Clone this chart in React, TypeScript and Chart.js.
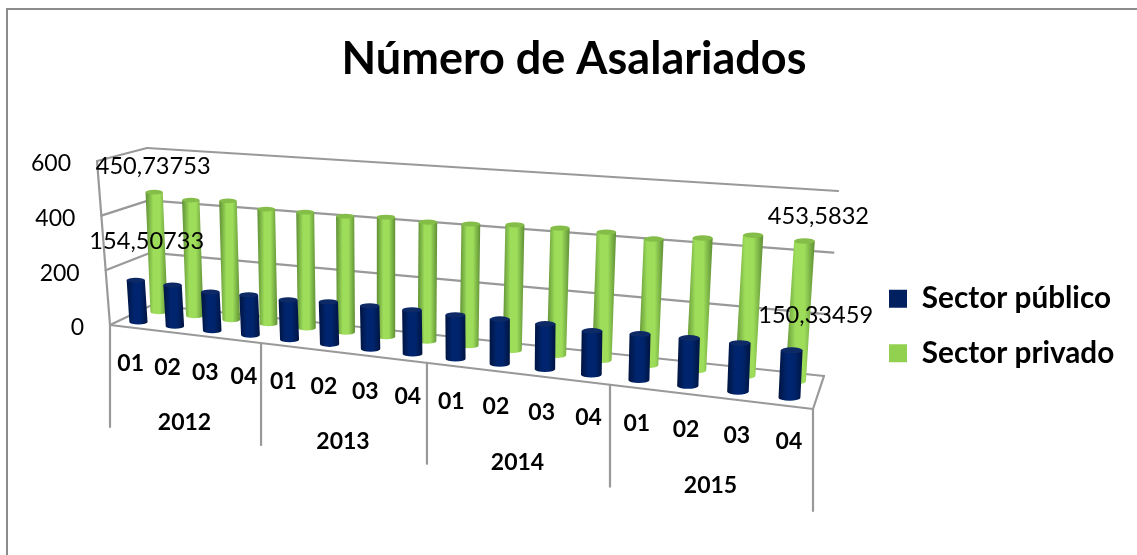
import React, { useEffect, useRef } from "react";
import { Chart, registerables } from "chart.js";

Chart.register(...registerables);

const years = ["2012", "2013", "2014", "2015"];
const quarters = ["01", "02", "03", "04"];
const categories = years.flatMap((y) => quarters.map((q) => `${y}-${q}`));
const sectorPublico = [154.50733, 151, 140, 144, 141, 149, 150, 151.6, 150, 152, 152, 145, 151.6, 155.5, 156, 150.33459];
const sectorPrivado = [450.73753, 431.6, 439, 420, 420, 417, 425, 419, 424, 433, 434, 433, 422, 438, 460, 453.5832];
const yTicks = [0, 200, 400, 600];

const BLUE = "#002060";
const GREEN = "#92D050";
const GRID = "#999999";
const FONT = "Lato";

type P = { x: number; y: number };
const F0: P = { x: 110, y: 325 };
const F1: P = { x: 813, y: 409 };
const B0: P = { x: 152, y: 305 };
const B1: P = { x: 824, y: 376 };
const FT0: P = { x: 97, y: 161 };
const FT1: P = { x: 821, y: 217 };
const BT0: P = { x: 147, y: 148 };
const BT1: P = { x: 838, y: 191 };

const warp = (u: number) => (0.821 * u) / (1 - 0.179 * u);
const mix = (a: P, b: P, k: number): P => ({ x: a.x + (b.x - a.x) * k, y: a.y + (b.y - a.y) * k });
// u: 0..1 along the categories, h: 0..1 up the value axis, d: 0 front .. 1 back
function project(u: number, h: number, d: number): P {
  const t = warp(u);
  const front = mix(mix(F0, F1, t), mix(FT0, FT1, t), h);
  const back = mix(mix(B0, B1, t), mix(BT0, BT1, t), h);
  return mix(front, back, d);
}

const depthOf = [0.25, 0.75];
const labelShift: Record<string, P>[] = [
  { first: { x: 11, y: -39 }, last: { x: 24, y: -35 } },
  { first: { x: -1, y: -26 }, last: { x: 14, y: -25 } },
];
const shades = [
  { edge: "#001440", mid: "#00256e", cap: "#0e2a66" },
  { edge: "#5f8f35", mid: "#9ddd5a", cap: "#84bd48" },
];

function line(ctx: CanvasRenderingContext2D, a: P, b: P, w = 2.2) {
  ctx.beginPath();
  ctx.moveTo(a.x, a.y);
  ctx.lineTo(b.x, b.y);
  ctx.lineWidth = w;
  ctx.strokeStyle = GRID;
  ctx.stroke();
}

function cylinder(ctx: CanvasRenderingContext2D, base: P, top: P, hw: number, shade: { edge: string; mid: string; cap: string }) {
  const ry = hw * 0.27;
  const left = Math.min(base.x, top.x) - hw;
  const right = Math.max(base.x, top.x) + hw;
  const g = ctx.createLinearGradient(left, 0, right, 0);
  g.addColorStop(0, shade.edge);
  g.addColorStop(0.35, shade.mid);
  g.addColorStop(0.65, shade.mid);
  g.addColorStop(1, shade.edge);
  ctx.beginPath();
  ctx.moveTo(top.x - hw, top.y);
  ctx.lineTo(base.x - hw, base.y);
  ctx.ellipse(base.x, base.y, hw, ry, 0, Math.PI, 0, true);
  ctx.lineTo(top.x + hw, top.y);
  ctx.closePath();
  ctx.fillStyle = g;
  ctx.fill();
  ctx.beginPath();
  ctx.ellipse(top.x, top.y, hw, ry, 0, 0, Math.PI * 2);
  ctx.fillStyle = shade.cap;
  ctx.fill();
}

const scene = {
  id: "scene",
  beforeDraw(chart: any) {
    const { ctx } = chart;
    ctx.save();
    ctx.fillStyle = "#ffffff";
    ctx.fillRect(0, 0, chart.width, chart.height);
    ctx.strokeStyle = "#8c8c8c";
    ctx.lineWidth = 2;
    ctx.beginPath();
    ctx.moveTo(7, chart.height);
    ctx.lineTo(7, 9);
    ctx.lineTo(chart.width, 9);
    ctx.stroke();
    ctx.restore();
  },
  afterLayout(chart: any) {
    const lg = chart.legend;
    const w = lg.right - lg.left;
    const h = lg.bottom - lg.top;
    lg.left = 864;
    lg.right = 864 + w;
    const cy = 326;
    lg.top = cy - h / 2;
    lg.bottom = cy + h / 2;
  },
  beforeDatasetsDraw(chart: any) {
    const { ctx, chartArea: area } = chart;
    const yScale = chart.scales.y;
    const hOf = (v: number) => (area.bottom - yScale.getPixelForValue(v)) / area.height;
    ctx.save();
    ctx.lineCap = "round";
    for (const v of yScale.ticks.map((t: any) => t.value)) {
      const h = hOf(v);
      line(ctx, project(0, h, 0), project(0, h, 1));
      line(ctx, project(0, h, 1), project(1, h, 1));
    }
    line(ctx, project(0, 0, 0), project(0, hOf(600), 0));
    line(ctx, project(0, 0, 0), project(1, 0, 0));
    line(ctx, project(1, 0, 0), project(1, 0, 1));
    const drop = [102, 102, 101, 102, 102];
    years.concat("end").forEach((_, i) => {
      const a = project(i / years.length, 0, 0);
      line(ctx, a, { x: a.x, y: a.y + drop[i] });
    });
    for (const ds of [1, 0]) {
      const meta = chart.getDatasetMeta(ds);
      meta.data.forEach((el: any) => {
        const u = (el.x - area.left) / area.width;
        const w = el.width / area.width;
        const v = yScale.getValueForPixel(el.y);
        const d = depthOf[ds];
        const base = project(u, 0, d);
        const top = project(u, hOf(v), d);
        const spread = project(u + w / 2, 0, d).x - project(u - w / 2, 0, d).x;
        const hw = (0.5 * spread + 0.5 * w * categories.length * 43) / 2;
        cylinder(ctx, base, top, hw, shades[ds]);
      });
    }
    ctx.restore();
  },
  beforeDatasetDraw() {
    return false;
  },
  afterDatasetsDraw(chart: any) {
    const { ctx, chartArea: area } = chart;
    const yScale = chart.scales.y;
    const hOf = (v: number) => (area.bottom - yScale.getPixelForValue(v)) / area.height;
    ctx.save();
    ctx.fillStyle = "#000000";
    ctx.textBaseline = "middle";

    ctx.font = `23px ${FONT}`;
    ctx.textAlign = "right";
    yScale.ticks.forEach((t: any) => {
      const p = project(0, hOf(t.value), 0);
      ctx.fillText(String(t.value), p.x - 26, p.y + 3);
    });

    ctx.textAlign = "center";
    ctx.font = `bold 23px ${FONT}`;
    const xScale = chart.scales.x;
    categories.forEach((c, i) => {
      const u = (xScale.getPixelForTick(i) - area.left) / area.width;
      const p = project(u, 0, 0);
      ctx.fillText(c.split("-")[1], p.x + 2.5, p.y + 36);
    });
    years.forEach((y, i) => {
      const a = project(i / years.length, 0, 0);
      const b = project((i + 1) / years.length, 0, 0);
      ctx.fillText(y, (a.x + b.x) / 2 - 1, (a.y + b.y) / 2 + 89);
    });

    ctx.font = `23.6px ${FONT}`;
    [0, 1].forEach((ds) => {
      const meta = chart.getDatasetMeta(ds);
      const values = chart.data.datasets[ds].data as number[];
      const show = [
        [0, labelShift[ds].first],
        [values.length - 1, labelShift[ds].last],
      ] as [number, P][];
      show.forEach(([i, shift]) => {
        const el = meta.data[i];
        const u = (el.x - area.left) / area.width;
        const p = project(u, hOf(values[i]), depthOf[ds]);
        ctx.fillText(String(values[i]).replace(".", ","), p.x + shift.x, p.y + shift.y);
      });
    });
    ctx.restore();
  },
};

export default function App() {
  const ref = useRef<HTMLCanvasElement>(null);
  useEffect(() => {
    document.body.style.margin = "0";
    const chart = new Chart(ref.current!, {
      type: "bar",
      data: {
        labels: categories,
        datasets: [
          { label: "Sector público", data: sectorPublico, backgroundColor: BLUE, barPercentage: 0.46, categoryPercentage: 1, grouped: false },
          { label: "Sector privado", data: sectorPrivado, backgroundColor: GREEN, barPercentage: 0.44, categoryPercentage: 1, grouped: false },
        ] as any,
      },
      options: {
        responsive: false,
        animation: false,
        layout: { padding: { left: 11, right: 0, top: 32, bottom: 40 } },
        font: { family: FONT },
        scales: {
          x: { display: false },
          y: { display: false, min: 0, max: 600, afterBuildTicks: (s: any) => { s.ticks = yTicks.map((value) => ({ value })); } },
        },
        plugins: {
          title: {
            display: true,
            text: "Número de Asalariados",
            color: "#000000",
            font: { family: FONT, size: 45, weight: "bold" },
            padding: { top: 0, bottom: 10 },
          },
          legend: {
            position: "right",
            labels: {
              color: "#000000",
              font: { family: FONT, size: 29.7, weight: "bold" },
              boxWidth: 18,
              boxHeight: 18,
              padding: 25,
            },
          },
          tooltip: { enabled: false },
        },
      } as any,
      plugins: [scene as any],
    });
    return () => chart.destroy();
  }, []);
  return (
    <div style={{ position: "absolute", left: 0, top: 0, width: 1137, height: 555 }}>
      <canvas ref={ref} width={1137} height={555} style={{ display: "block" }} />
    </div>
  );
}
